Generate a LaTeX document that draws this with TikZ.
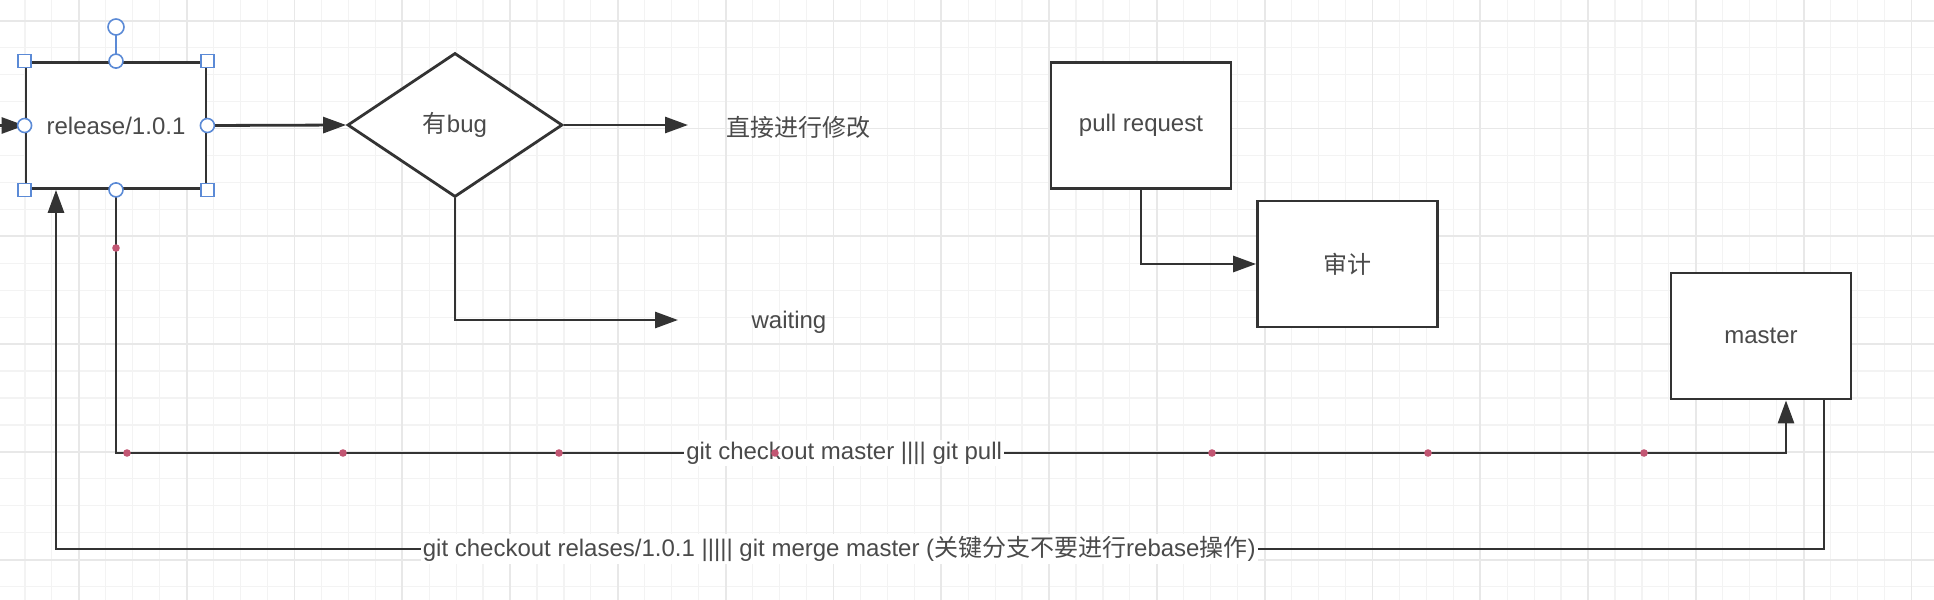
\documentclass[tikz,border=0pt]{standalone}
\usepackage{fontspec}
\setmainfont{Liberation Sans}
\newfontfamily\cjk{Noto Sans CJK SC}
\usetikzlibrary{arrows.meta,shapes.geometric}

\definecolor{linegray}{HTML}{333333}
\definecolor{textgray}{HTML}{4A4A4A}
\definecolor{gridminor}{HTML}{F3F3F3}
\definecolor{gridmajor}{HTML}{E8E8E8}
\definecolor{handleblue}{HTML}{5B8AD6}
\definecolor{waypoint}{HTML}{C25673}

\begin{document}
\begin{tikzpicture}[x=0.5pt,y=-0.5pt,
  box/.style={rectangle,draw=linegray,line width=1.4pt,fill=white,
    minimum width=90pt,minimum height=63pt,inner sep=0pt,
    text=textgray,font=\fontsize{12}{14}\selectfont},
  choice/.style={diamond,draw=linegray,line width=1.4pt,fill=white,
    minimum width=107.5pt,minimum height=72pt,inner sep=0pt,aspect=1.5,
    text=textgray,font=\fontsize{12}{14}\selectfont},
  plain/.style={text=textgray,font=\fontsize{12}{14}\selectfont},
  conn/.style={draw=linegray,line width=1.4pt,-{Triangle[length=11.5pt,width=8pt]}},
  lbl/.style={fill=white,inner sep=1pt,text=textgray,font=\fontsize{12}{14}\selectfont},
  handle/.style={draw=handleblue,fill=white,line width=0.8pt},
  dot/.style={circle,fill=waypoint,inner sep=0pt,minimum size=3.8pt}]

\useasboundingbox (0,0) rectangle (1934,600);
\clip (0,0) rectangle (1934,600);
\fill[white] (0,0) rectangle (1934,600);

% grid
\foreach \i in {0,...,71}
  \draw[gridminor,line width=0.6pt] ({24.9+26.95*\i},0) -- ++(0,600);
\foreach \j in {0,...,21}
  \draw[gridminor,line width=0.6pt] (0,{20.7+26.95*\j}) -- ++(1934,0);
\foreach \i in {0,...,17}
  \draw[gridmajor,line width=0.9pt] ({78.8+107.8*\i},0) -- ++(0,600);
\foreach \j in {0,...,5}
  \draw[gridmajor,line width=0.9pt] (0,{20.7+107.8*\j}) -- ++(1934,0);

\node[box] (release) at (116,125.5) {release/1.0.1};
\node[choice] (bug) at (455,125) {{\cjk 有}bug};
\node[plain] (fix) at (798,127) {\cjk 直接进行修改};
\node[plain] (wait) at (789,322) {waiting};
\node[box] (pr) at (1141,125.5) {pull request};
\node[box] (audit) at (1347.5,264) {\cjk 审计};
\node[box] (master) at (1761,336) {master};

\coordinate (in) at (-20,125.5);
\coordinate (fixend) at (688,125);
\coordinate (waitend) at (678,320);
\coordinate (p1) at (1786,453);
\coordinate (q1) at (1824,549);
\coordinate (q2) at (56,549);

\draw[conn] (in) -- (release.west);
\draw[conn] (release.east) -- (bug.west);
\draw[conn] (bug.east) -- (fixend);
\draw[conn] (bug.south) |- (waitend);
\draw[conn] (pr.south) |- (audit.west);
\draw[conn] (release.south) |- node[lbl,pos=0.718] {git checkout master |||| git pull} (p1)
  -- (p1 |- master.south);
\draw[conn] (q1 |- master.south) -- (q1)
  -- node[lbl,pos=0.557] {git checkout relases/1.0.1 ||||| git merge master ({\cjk 关键分支不要进行}rebase{\cjk 操作})} (q2)
  -- (q2 |- release.south);

% waypoints
\node[dot] at (116,248) {};
\foreach \x in {127,343,559,775,1212,1428,1644}
  \node[dot] at (\x,453) {};

% selection handles
\draw[handleblue,line width=0.8pt] (release.north) -- (116,35);
\draw[handle] (116,27) circle (4pt);
\foreach \a in {north,south,east,west}
  \draw[handle] (release.\a) circle (3.5pt);
\foreach \a in {north east,north west,south east,south west}
  \draw[handle] ([shift={(-6.5,-6.5)}]release.\a) rectangle ([shift={(6.5,6.5)}]release.\a);

\end{tikzpicture}
\end{document}
